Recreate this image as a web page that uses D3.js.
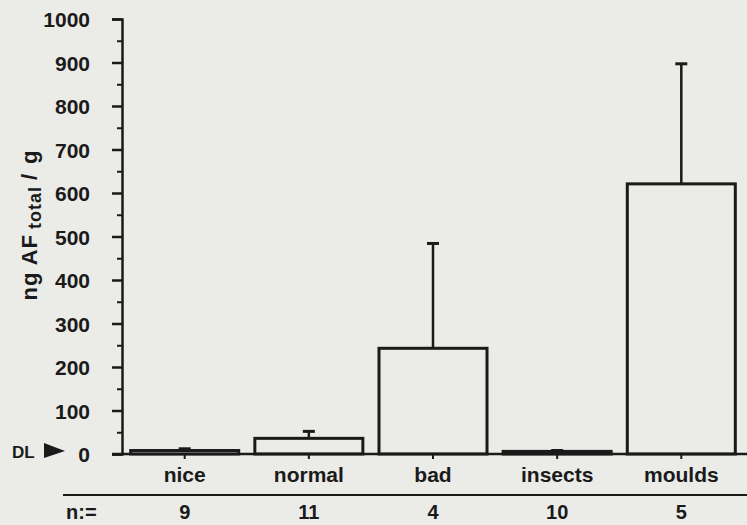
<!DOCTYPE html>
<style>
    body{ margin:0; background:#ebebe8; }
    svg text{ font-family:"Liberation Sans", Arial, sans-serif; font-weight:bold; fill:#1a1a1a; }
</style>
<div class="graph"></div>
<script src="https://d3js.org/d3.v7.min.js"></script>
<script>

var categories = ["nice", "normal", "bad", "insects", "moulds"];
var means = [8, 36, 243, 6, 621];
var errTops = [12, 52, 484, 8, 897];
var counts = [9, 11, 4, 10, 5];
var yTicks = [0, 100, 200, 300, 400, 500, 600, 700, 800, 900, 1000];

var svg = d3.select(".graph").append("svg").attr("width", 747).attr("height", 525),
    axisX = 122, baseY = 454, topY = 19;

var x = d3.scaleBand()
    .domain(categories)
    .range([axisX, 744])
    .paddingInner(0.13)
    .paddingOuter(0.07);

var y = d3.scaleLinear()
    .domain([0, 1000])
    .range([baseY, topY]);

var ink = "#1a1a1a";

// minor ticks every 50
svg.append("g")
    .attr("transform", "translate(" + axisX + ",0)")
    .call(d3.axisLeft(y).tickValues(d3.range(50, 1000, 100)).tickSize(5).tickFormat(""))
    .call(function(g){ g.select(".domain").remove(); })
    .selectAll("line").attr("stroke", ink).attr("stroke-width", 2);

var yAxis = svg.append("g")
    .attr("transform", "translate(" + axisX + ",0)")
    .call(d3.axisLeft(y).tickValues(yTicks).tickFormat(d3.format("d"))
        .tickSize(10).tickSizeOuter(10).tickPadding(22));
yAxis.select(".domain").attr("stroke", ink).attr("stroke-width", 2.5);
yAxis.selectAll("line").attr("stroke", ink).attr("stroke-width", 2.5);
yAxis.selectAll("text").attr("font-size", 21).attr("dy", "0.36em");

// y label
var yl = svg.append("text")
    .attr("transform", "translate(37,225) rotate(-90)")
    .attr("text-anchor", "middle")
    .attr("letter-spacing", 1)
    .attr("font-size", 22);
yl.append("tspan").text("ng AF");
yl.append("tspan").attr("font-size", 18).attr("dx", 5).attr("dy", 4).text("total");
yl.append("tspan").attr("dx", 6).attr("dy", -4).text("/");
yl.append("tspan").attr("dx", 9).text("g");

// DL marker
svg.append("text").attr("x", 12).attr("y", 458).attr("font-size", 17).text("DL");
svg.append("path")
    .attr("d", d3.line()([[44, y(0) - 11], [65, y(0) - 3], [44, y(0) + 4]]))
    .attr("fill", ink);

// error bars
var g = svg.append("g");
g.selectAll(".err")
    .data(categories)
  .enter().append("line")
    .attr("stroke", ink).attr("stroke-width", 2.5)
    .attr("x1", function(d) { return x(d) + x.bandwidth() / 2; })
    .attr("x2", function(d) { return x(d) + x.bandwidth() / 2; })
    .attr("y1", function(d, i) { return y(means[i]); })
    .attr("y2", function(d, i) { return y(errTops[i]); });
g.selectAll(".cap")
    .data(categories)
  .enter().append("line")
    .attr("stroke", ink).attr("stroke-width", 3)
    .attr("x1", function(d) { return x(d) + x.bandwidth() / 2 - 6; })
    .attr("x2", function(d) { return x(d) + x.bandwidth() / 2 + 6; })
    .attr("y1", function(d, i) { return y(errTops[i]); })
    .attr("y2", function(d, i) { return y(errTops[i]); });

// bars
g.selectAll(".bar")
    .data(categories)
  .enter().append("rect")
    .attr("fill", "none")
    .attr("stroke", ink)
    .attr("stroke-width", 3)
    .attr("x", function(d) { return x(d); })
    .attr("width", x.bandwidth())
    .attr("y", function(d, i) { return y(means[i]); })
    .attr("height", function(d, i) { return baseY - y(means[i]); });

// x axis
var xAxis = svg.append("g")
    .attr("transform", "translate(0," + baseY + ")")
    .call(d3.axisBottom(x).tickSize(5).tickSizeOuter(0).tickPadding(8));
xAxis.select(".domain").attr("d", "M112,0H747").attr("stroke", ink).attr("stroke-width", 2.5);
xAxis.selectAll("line").attr("stroke", ink).attr("stroke-width", 2);
xAxis.selectAll("text").attr("font-size", 21);

// n row
svg.append("line")
    .attr("x1", 63).attr("x2", 747).attr("y1", 495).attr("y2", 495)
    .attr("stroke", ink).attr("stroke-width", 2);
svg.append("text").attr("x", 66).attr("y", 519).attr("font-size", 20).text("n:=");
svg.selectAll(".n")
    .data(categories)
  .enter().append("text")
    .attr("text-anchor", "middle")
    .attr("font-size", 20)
    .attr("x", function(d) { return x(d) + x.bandwidth() / 2; })
    .attr("y", 519)
    .text(function(d, i) { return counts[i]; });

</script>
